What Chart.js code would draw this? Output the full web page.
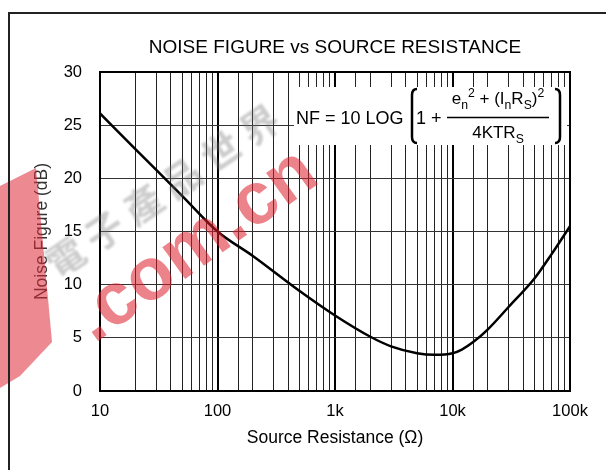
<!DOCTYPE html>
<html>
<head>
<meta charset="utf-8">
<script src="https://cdn.jsdelivr.net/npm/chart.js@4.4.0/dist/chart.umd.min.js"></script>
<style>
  html, body { margin: 0; padding: 0; background: #fff; }
  #wrap { width: 606px; height: 470px; }
</style>
</head>
<body>
<div id="wrap"><canvas id="nfChart" width="606" height="470"></canvas></div>
<script>
// Noise figure vs source resistance
const resistance  = [10, 20, 50, 100, 200, 500, 1000, 2000, 3000, 5000, 7000, 10000, 12000, 15000, 20000, 30000, 50000, 70000, 100000];
const noiseFigure = [26.1, 22.75, 18.35, 15.0, 12.7, 9.4, 7.1, 5.1, 4.2, 3.55, 3.4, 3.55, 3.9, 4.6, 5.8, 7.9, 10.6, 12.9, 15.5];
const decadeLabels = ['10', '100', '1k', '10k', '100k'];
const yTicks = [0, 5, 10, 15, 20, 25, 30];

const FONT = '"Liberation Sans", Arial, sans-serif';

function isDecade(v) {
  const e = Math.log10(v);
  return Math.abs(e - Math.round(e)) < 1e-9;
}

// draws a run of text pieces (normal / sub / sup) starting at x
function drawRun(ctx, x, y, parts, size) {
  parts.forEach(p => {
    const s = p.small ? size * 0.72 : size;
    ctx.font = s + 'px ' + FONT;
    const dy = p.sub ? 5 : (p.sup ? -7 : 0);
    ctx.fillText(p.t, x, y + dy);
    x += ctx.measureText(p.t).width;
  });
  return x;
}
function runWidth(ctx, parts, size) {
  let w = 0;
  parts.forEach(p => {
    ctx.font = (p.small ? size * 0.72 : size) + 'px ' + FONT;
    w += ctx.measureText(p.t).width;
  });
  return w;
}

const frameAndFormula = {
  id: 'frameAndFormula',
  beforeDatasetsDraw(chart) {
    const { ctx, chartArea: a } = chart;
    ctx.save();
    ctx.strokeStyle = '#000';
    ctx.lineWidth = 2;
    ctx.strokeRect(a.left, a.top, a.right - a.left, a.bottom - a.top);
    ctx.restore();
  },
  afterDatasetsDraw(chart) {
    const ctx = chart.ctx;
    ctx.save();
    // white box behind the equation
    ctx.fillStyle = '#fff';
    ctx.fillRect(294, 87, 273, 58);
    ctx.fillStyle = '#000';
    ctx.textBaseline = 'alphabetic';
    ctx.textAlign = 'left';
    ctx.font = '18px ' + FONT;
    ctx.fillText('NF = 10 LOG', 296, 124);
    // brackets
    ctx.strokeStyle = '#000';
    ctx.lineWidth = 2.5;
    ctx.beginPath();
    ctx.moveTo(417, 89); ctx.quadraticCurveTo(412, 89, 412, 95);
    ctx.lineTo(412, 137); ctx.quadraticCurveTo(412, 143, 417, 143);
    ctx.stroke();
    ctx.beginPath();
    ctx.moveTo(555, 89); ctx.quadraticCurveTo(560, 89, 560, 95);
    ctx.lineTo(560, 137); ctx.quadraticCurveTo(560, 143, 555, 143);
    ctx.stroke();
    ctx.font = '18px ' + FONT;
    ctx.fillText('1 +', 416, 124);
    // fraction
    const num = [
      { t: 'e' }, { t: 'n', sub: 1, small: 1 }, { t: '2', sup: 1, small: 1 },
      { t: ' + (I' }, { t: 'n', sub: 1, small: 1 }, { t: 'R' }, { t: 'S', sub: 1, small: 1 },
      { t: ')' }, { t: '2', sup: 1, small: 1 }
    ];
    const den = [{ t: '4KTR' }, { t: 'S', sub: 1, small: 1 }];
    const nw = runWidth(ctx, num, 17);
    const dw = runWidth(ctx, den, 17);
    const cx = 498;
    drawRun(ctx, cx - nw / 2, 104, num, 17);
    drawRun(ctx, cx - dw / 2, 138, den, 17);
    ctx.lineWidth = 1.3;
    ctx.beginPath();
    ctx.moveTo(447, 117.5); ctx.lineTo(549, 117.5);
    ctx.stroke();
    ctx.restore();
  },
  afterDraw(chart) {
    const ctx = chart.ctx;
    // watermark of the source site
    ctx.save();
    ctx.translate(58, 280);
    ctx.rotate(-0.6);
    ctx.filter = 'blur(1px)';
    ctx.font = 'bold 38px "Noto Sans CJK TC", sans-serif';
    ctx.letterSpacing = '9px';
    ctx.fillStyle = 'rgba(120, 120, 120, 0.38)';
    ctx.fillText('電子產品世界', 0, 0);
    ctx.restore();
    ctx.save();
    ctx.fillStyle = 'rgba(222, 40, 52, 0.55)';
    ctx.beginPath();
    ctx.moveTo(0, 186); ctx.lineTo(36, 168); ctx.lineTo(52, 342);
    ctx.lineTo(20, 376); ctx.lineTo(0, 388); ctx.closePath();
    ctx.fill();
    ctx.translate(94, 344);
    ctx.rotate(-0.62);
    ctx.font = 'bold 74px ' + FONT;
    ctx.fillStyle = 'rgba(222, 30, 42, 0.55)';
    ctx.fillText('.com.cn', 0, 0);
    ctx.restore();
    // outer frame
    ctx.save();
    ctx.strokeStyle = '#222';
    ctx.lineWidth = 2;
    ctx.beginPath();
    ctx.moveTo(9, 480); ctx.lineTo(9, 13); ctx.lineTo(620, 13);
    ctx.stroke();
    ctx.restore();
  }
};

new Chart(document.getElementById('nfChart'), {
  type: 'line',
  data: {
    datasets: [{
      data: resistance.map((r, i) => ({ x: r, y: noiseFigure[i] })),
      borderColor: '#000',
      borderWidth: 2.5,
      pointRadius: 0,
      cubicInterpolationMode: 'monotone',
      fill: false
    }]
  },
  options: {
    responsive: false,
    animation: false,
    layout: { padding: { left: 0, right: 36, top: 0, bottom: 0 } },
    plugins: {
      legend: { display: false },
      tooltip: { enabled: false },
      title: {
        display: true,
        fullSize: false,
        text: 'NOISE FIGURE vs SOURCE RESISTANCE',
        color: '#000',
        font: { family: FONT, size: 19, weight: 'normal', lineHeight: 1.2 },
        padding: { top: 36.6, bottom: 12.6 }
      }
    },
    scales: {
      x: {
        type: 'logarithmic',
        min: 10,
        max: 100000,
        afterFit(scale) { scale.height = 79; },
        border: { display: true, color: '#000', width: 2 },
        grid: {
          drawTicks: false,
          color: ctx => isDecade(ctx.tick.value) ? '#000' : '#222',
          lineWidth: ctx => isDecade(ctx.tick.value) ? 2 : 1
        },
        ticks: {
          autoSkip: false,
          maxRotation: 0,
          padding: 11,
          color: '#000',
          font: { family: FONT, size: 16.5 },
          callback: v => {
            if (!isDecade(v)) return '';
            return decadeLabels[Math.round(Math.log10(v)) - 1];
          }
        },
        title: {
          display: true,
          text: 'Source Resistance (Ω)',
          color: '#000',
          font: { family: FONT, size: 17.5 },
          padding: { top: 0, bottom: 21.5 }
        }
      },
      y: {
        min: 0,
        max: 30,
        afterFit(scale) { scale.width = 100; },
        afterBuildTicks(scale) { scale.ticks = yTicks.map(v => ({ value: v })); },
        border: { display: true, color: '#000', width: 2 },
        grid: { drawTicks: false, color: '#333', lineWidth: 1 },
        ticks: {
          padding: 18,
          color: '#000',
          font: { family: FONT, size: 16.5 }
        },
        title: {
          display: true,
          text: 'Noise Figure (dB)',
          color: '#333',
          font: { family: FONT, size: 17.5 },
          padding: { top: 32, bottom: 0 }
        }
      }
    }
  },
  plugins: [frameAndFormula]
});
</script>
</body>
</html>
